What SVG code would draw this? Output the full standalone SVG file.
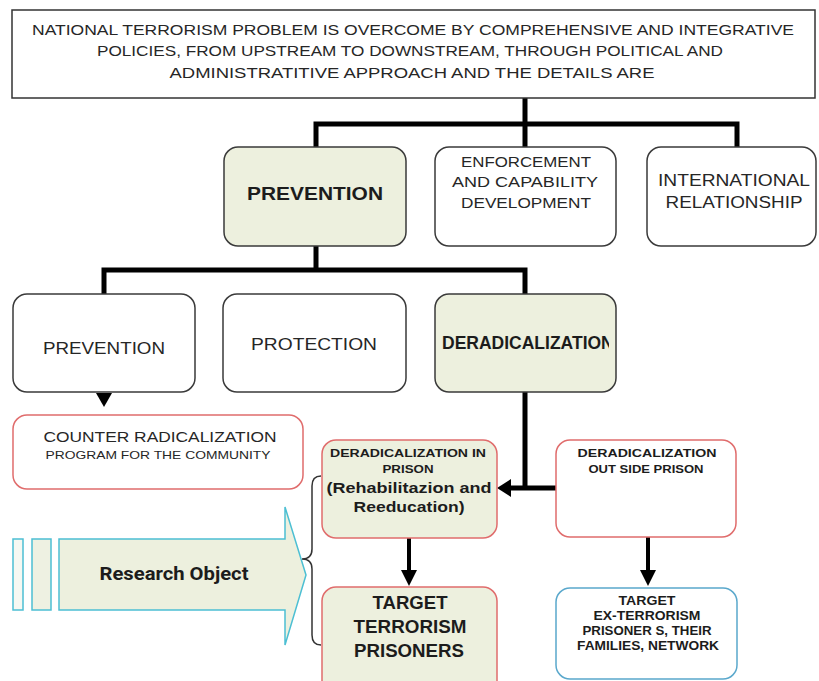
<svg xmlns="http://www.w3.org/2000/svg" width="819" height="681" viewBox="0 0 819 681">
<style>
.box{fill:#ffffff;stroke:#3a3a3a;stroke-width:1.5}
.green{fill:#edf0de}
.red{stroke:#e06c6c}
.blue{stroke:#5aa8cc}
.t{font-family:"Liberation Sans",Arial,sans-serif;fill:#262626;text-anchor:middle}
.b{font-weight:bold;fill:#1c1c1c}
.conn{stroke:#000;stroke-width:5;fill:none}
.thin{stroke:#000;stroke-width:4;fill:none}
.head{fill:#000}
.teal{fill:#edf0de;stroke:#4cbfd3;stroke-width:1.5}
</style>
<defs>
<clipPath id="clipD"><rect x="436" y="295" width="173" height="96"/></clipPath>
</defs>
<rect width="819" height="681" fill="#ffffff"/>

<g id="connectors">
<path class="conn" d="M316 147 V124 H737 V147 M525 98 V147"/>
<path class="conn" d="M316 246 V270 M104 294 V270 H525 V294"/>
<path class="conn" d="M525 392 V488 H556 M525 488 H509"/>
<polygon class="head" points="497,488 511,479 511,497"/>
<polygon class="head" points="96,393 112,393 104,407"/>
<path class="thin" d="M409 538 V571"/>
<polygon class="head" points="401,570 417,570 409,586"/>
<path class="thin" d="M648 537 V571"/>
<polygon class="head" points="640,570 656,570 648,586"/>
<path d="M321 476 Q312 476 312 486 V549 Q312 559 302 559 Q312 559 312 569 V635 Q312 645 321 645" fill="none" stroke="#333" stroke-width="1.5"/>
</g>

<g id="top">
<rect x="12" y="10" width="803" height="88" fill="#fff" stroke="#333" stroke-width="1.5"/>
<text class="t" x="413" y="35" font-size="14" textLength="762" lengthAdjust="spacingAndGlyphs">NATIONAL TERRORISM PROBLEM IS OVERCOME BY COMPREHENSIVE AND INTEGRATIVE</text>
<text class="t" x="410" y="56" font-size="14" textLength="626" lengthAdjust="spacingAndGlyphs">POLICIES, FROM UPSTREAM TO DOWNSTREAM, THROUGH POLITICAL AND</text>
<text class="t" x="412" y="78" font-size="14" textLength="485" lengthAdjust="spacingAndGlyphs">ADMINISTRATITIVE APPROACH AND THE DETAILS ARE</text>
</g>

<g id="prevention-main">
<rect class="box green" x="224" y="147" width="182" height="99" rx="14"/>
<text class="t b" x="315" y="200" font-size="18" textLength="136" lengthAdjust="spacingAndGlyphs">PREVENTION</text>
</g>

<g id="enforcement">
<rect class="box" x="435" y="147" width="181" height="99" rx="14"/>
<text class="t" x="526" y="167" font-size="15" textLength="130" lengthAdjust="spacingAndGlyphs">ENFORCEMENT</text>
<text class="t" x="525" y="187" font-size="15" textLength="146" lengthAdjust="spacingAndGlyphs">AND CAPABILITY</text>
<text class="t" x="526" y="208" font-size="15" textLength="130" lengthAdjust="spacingAndGlyphs">DEVELOPMENT</text>
</g>

<g id="international">
<rect class="box" x="647" y="147" width="169" height="99" rx="14"/>
<text class="t" x="734" y="186" font-size="16" textLength="152" lengthAdjust="spacingAndGlyphs">INTERNATIONAL</text>
<text class="t" x="734" y="208" font-size="16" textLength="137" lengthAdjust="spacingAndGlyphs">RELATIONSHIP</text>
</g>

<g id="prevention-sub">
<rect class="box" x="13" y="294" width="182" height="98" rx="14"/>
<text class="t" x="104" y="354" font-size="16" textLength="122" lengthAdjust="spacingAndGlyphs">PREVENTION</text>
</g>

<g id="protection">
<rect class="box" x="223" y="294" width="183" height="98" rx="14"/>
<text class="t" x="314" y="350" font-size="16" textLength="126" lengthAdjust="spacingAndGlyphs">PROTECTION</text>
</g>

<g id="deradicalization">
<rect class="box green" x="435" y="294" width="181" height="98" rx="14"/>
<g clip-path="url(#clipD)">
<text class="t b" x="442" y="349" font-size="17.5" text-anchor="start" style="text-anchor:start">DERADICALIZATION</text>
</g>
</g>

<g id="counter">
<rect class="box red" x="13" y="415" width="290" height="74" rx="14"/>
<text class="t" x="160" y="442" font-size="14" textLength="233" lengthAdjust="spacingAndGlyphs">COUNTER RADICALIZATION</text>
<text class="t" x="158" y="459" font-size="11.5" textLength="225" lengthAdjust="spacingAndGlyphs">PROGRAM FOR THE COMMUNITY</text>
</g>

<g id="in-prison">
<rect class="box green red" x="322" y="440" width="175" height="98" rx="14"/>
<text class="t b" x="408" y="457" font-size="11" textLength="156" lengthAdjust="spacingAndGlyphs">DERADICALIZATION IN</text>
<text class="t b" x="408" y="473" font-size="11" textLength="51" lengthAdjust="spacingAndGlyphs">PRISON</text>
<text class="t b" x="409" y="493" font-size="14.5" textLength="165" lengthAdjust="spacingAndGlyphs">(Rehabilitazion and</text>
<text class="t b" x="409" y="512" font-size="14.5" textLength="111" lengthAdjust="spacingAndGlyphs">Reeducation)</text>
</g>

<g id="outside-prison">
<rect class="box red" x="556" y="440" width="180" height="97" rx="14"/>
<text class="t b" x="647" y="457" font-size="11" textLength="139" lengthAdjust="spacingAndGlyphs">DERADICALIZATION</text>
<text class="t b" x="646" y="473" font-size="11" textLength="115" lengthAdjust="spacingAndGlyphs">OUT SIDE PRISON</text>
</g>

<g id="target-prisoners">
<rect class="box green red" x="322" y="587" width="175" height="110" rx="14"/>
<text class="t b" x="410" y="609" font-size="18.5" textLength="75" lengthAdjust="spacingAndGlyphs">TARGET</text>
<text class="t b" x="410" y="633" font-size="18.5" textLength="113" lengthAdjust="spacingAndGlyphs">TERRORISM</text>
<text class="t b" x="409" y="657" font-size="18.5" textLength="110" lengthAdjust="spacingAndGlyphs">PRISONERS</text>
</g>

<g id="target-ex">
<rect class="box blue" x="556" y="588" width="181" height="91" rx="14"/>
<text class="t b" x="647" y="605" font-size="12" textLength="57" lengthAdjust="spacingAndGlyphs">TARGET</text>
<text class="t b" x="647" y="620" font-size="12" textLength="107" lengthAdjust="spacingAndGlyphs">EX-TERRORISM</text>
<text class="t b" x="647" y="635" font-size="12" textLength="129" lengthAdjust="spacingAndGlyphs">PRISONER S, THEIR</text>
<text class="t b" x="648" y="650" font-size="12" textLength="142" lengthAdjust="spacingAndGlyphs">FAMILIES, NETWORK</text>
</g>

<g id="research-object">
<rect x="13" y="539" width="10" height="71" fill="#f6f8f2" stroke="#4cbfd3" stroke-width="1.5"/>
<rect x="32" y="539" width="19" height="71" fill="#eef1e2" stroke="#4cbfd3" stroke-width="1.5"/>
<path class="teal" d="M59 539 H285 V507 L306 575 L285 645 V610 H59 Z"/>
<text x="174" y="580" font-family="Roboto, 'Liberation Sans', sans-serif" font-weight="bold" font-size="19" fill="#1c1c1c" text-anchor="middle" textLength="149" lengthAdjust="spacingAndGlyphs">Research Object</text>
</g>
</svg>
